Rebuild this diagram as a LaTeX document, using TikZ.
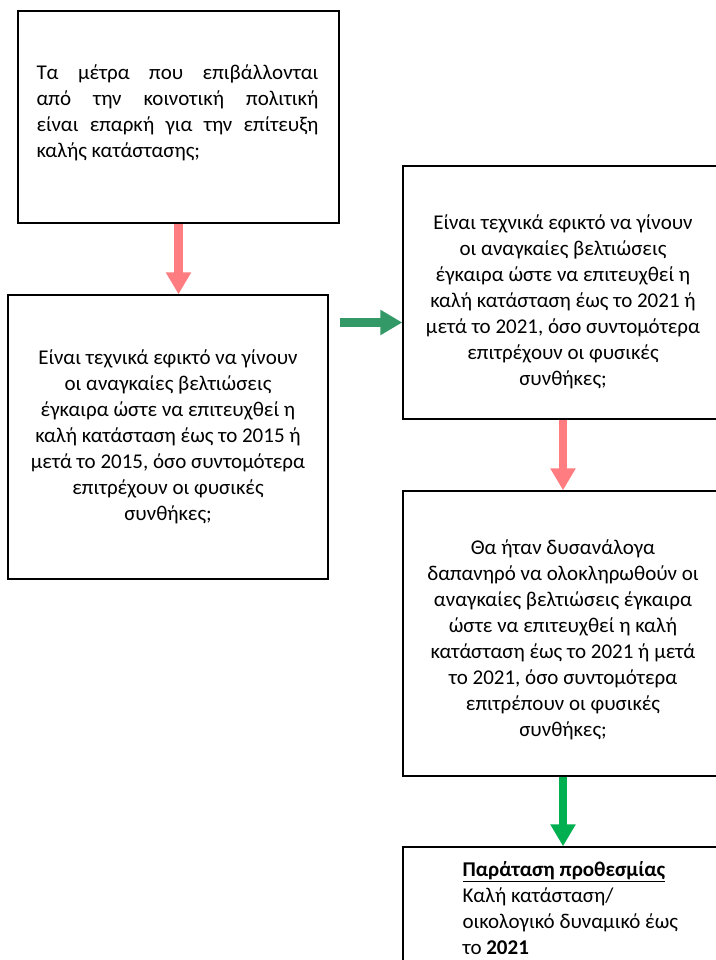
\documentclass[tikz,border=0pt]{standalone}
\usepackage{fontspec}
\setmainfont{Carlito}
\usetikzlibrary{arrows.meta}
\definecolor{salmon}{HTML}{FF7C80}
\definecolor{seagreen}{HTML}{339966}
\definecolor{brightgreen}{HTML}{00B050}

\tikzset{
  box/.style={draw, line width=1.4pt, minimum width=320pt, inner sep=0pt},
  txt/.style={font=\fontsize{21}{26}\selectfont, align=center},
  fat/.style={line width=8.5pt, -{Triangle[width=24pt,length=22pt]}},
}

\begin{document}
\begin{tikzpicture}[x=1pt,y=-1pt]
\useasboundingbox (0,0) rectangle (715,960);

\node[box, minimum width=321pt, minimum height=212pt] (measures) at (178.5,117) {};
\node[txt, text width=282pt, align=justify] (measurestext) at (177.5,113)
  {Τα μέτρα που επιβάλλονται\linebreak από την κοινοτική πολιτική\linebreak
   είναι επαρκή για την επίτευξη\linebreak καλής κατάστασης;};

\node[box, minimum height=284pt, txt] (tech15) at (168,437)
  {Είναι τεχνικά εφικτό να γίνουν\\ οι αναγκαίες βελτιώσεις\\
   έγκαιρα ώστε να επιτευχθεί η\\ καλή κατάσταση έως το 2015 ή\\
   μετά το 2015, όσο συντομότερα\\ επιτρέχουν οι φυσικές\\ συνθήκες;};

\node[box, minimum height=253pt] (tech21) at (563,292.5) {};
\node[txt] (tech21text) at (563,302)
  {Είναι τεχνικά εφικτό να γίνουν\\ οι αναγκαίες βελτιώσεις\\
   έγκαιρα ώστε να επιτευχθεί η\\ καλή κατάσταση έως το 2021 ή\\
   μετά το 2021, όσο συντομότερα\\ επιτρέχουν οι φυσικές\\ συνθήκες;};

\node[box, minimum height=285pt] (costly) at (563,633.5) {};
\node[txt] (costlytext) at (563,640)
  {Θα ήταν δυσανάλογα\\ δαπανηρό να ολοκληρωθούν οι\\
   αναγκαίες βελτιώσεις έγκαιρα\\ ώστε να επιτευχθεί η καλή\\
   κατάσταση έως το 2021 ή μετά\\ το 2021, όσο συντομότερα\\
   επιτρέπουν οι φυσικές\\ συνθήκες;};

\node[box, minimum height=140pt] (extension) at (563,917) {};
\node[txt, align=left, anchor=north west] (extensiontext) at (459,858)
  {\textbf{\underline{Παράταση προθεσμίας}}\\ Καλή κατάσταση/\\
   οικολογικό δυναμικό έως\\ το \textbf{2021}};

\coordinate (greenstart) at (measures.east |- 0,322.5);

\draw [fat, salmon] (measures) -- (measures |- tech15.north);
\draw [fat, seagreen] (greenstart) -- (greenstart -| tech21.west);
\draw [fat, salmon] (tech21) -- (costly.north);
\draw [fat, brightgreen] (costly) -- (extension.north);
\end{tikzpicture}
\end{document}
